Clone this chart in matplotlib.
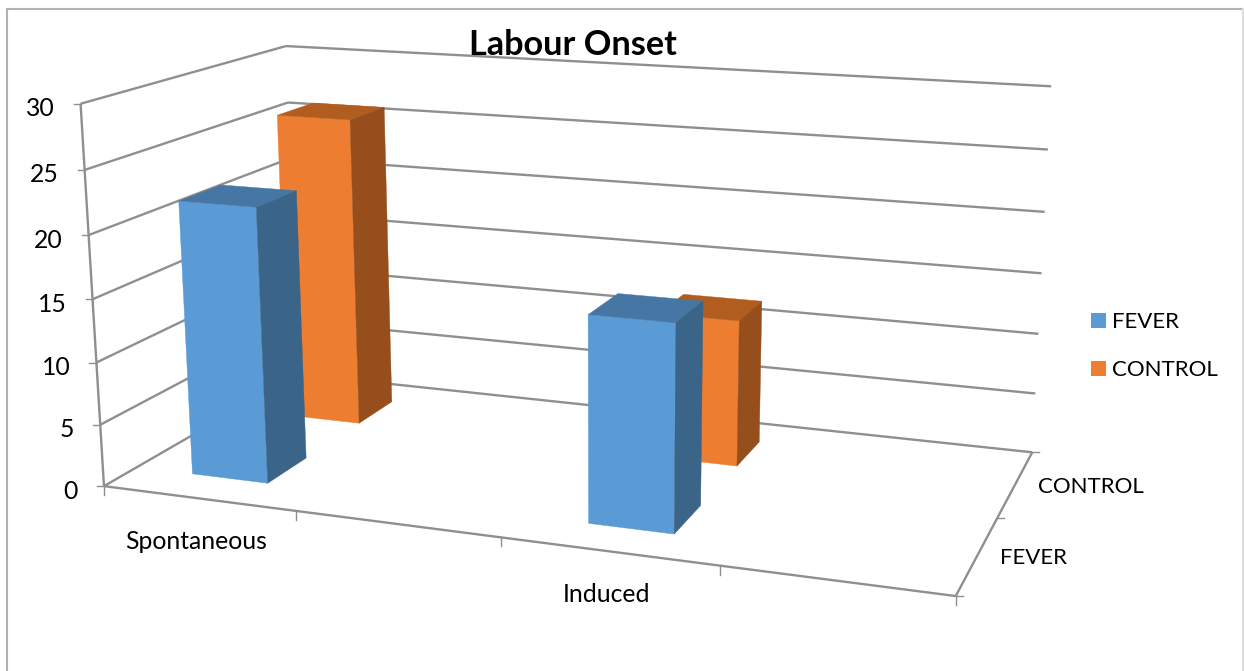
import numpy as np
import matplotlib
matplotlib.use("Agg")
import matplotlib.pyplot as plt
from matplotlib.patches import Polygon, Patch

plt.rcParams['font.family'] = ['Lato', 'DejaVu Sans']

title = "Labour Onset"
categories = ["Spontaneous", "", "Induced", ""]
series_names = ["FEVER", "CONTROL"]
fever = [22, 0, 16, 0]
control = [26, 0, 12, 0]
value_ticks = [0, 5, 10, 15, 20, 25, 30]

series_colors = ["#5B9BD5", "#ED7D31"]
top_colors = ["#4677A4", "#B25D20"]
side_colors = ["#3A6488", "#964F1C"]
grid_color = "#8F8F8F"

bar_width = 0.4  # gap width 150%

# known box positions (cat, depth, value) -> pixel, used to solve the camera
box_world = [(0, 0, 0), (1, 0, 0), (3, 0, 0), (4, 0, 0), (4, 1, 0), (4, 2, 0),
             (4, 2, 5), (4, 2, 10), (4, 2, 15), (4, 2, 20), (4, 2, 25), (4, 2, 30),
             (0, 0, 5), (0, 0, 10), (0, 0, 15), (0, 0, 20), (0, 0, 25), (0, 0, 30),
             (0, 2, 30), (0, 2, 25), (0, 2, 0)]
box_pixel = [(103, 486), (295, 512), (720, 567), (956, 595), (998, 518), (1032, 452),
             (1035, 393), (1038, 333), (1041, 273), (1045, 212), (1048, 150), (1052, 87),
             (100, 425), (97, 362), (93, 298), (89, 234), (85, 170), (81, 105),
             (285, 46), (287, 102), (300, 375)]


def solve_camera(world, pixel):
    rows = []
    rhs = []
    for (x, y, z), (u, v) in zip(world, pixel):
        rows.append([x, y, z, 1, 0, 0, 0, 0, -u * x, -u * y, -u * z])
        rows.append([0, 0, 0, 0, x, y, z, 1, -v * x, -v * y, -v * z])
        rhs += [u, v]
    sol = np.linalg.lstsq(np.array(rows, float), np.array(rhs, float), rcond=None)[0]
    return np.append(sol, 1.0).reshape(3, 4)


camera = solve_camera(box_world, box_pixel)


def project(x, y, z):
    u, v, w = camera @ np.array([x, y, z, 1.0])
    return u / w, v / w


def draw_line(ax, a, b, **kw):
    pa, pb = project(*a), project(*b)
    ax.plot([pa[0], pb[0]], [pa[1], pb[1]], color=grid_color, lw=1.7,
            solid_capstyle="butt", **kw)


def draw_bar(ax, cat, depth, value, idx):
    x0 = cat + (1 - bar_width) / 2
    x1 = x0 + bar_width
    y0 = depth + (1 - bar_width) / 2
    y1 = y0 + bar_width
    faces = [
        ([(x0, y0, 0), (x1, y0, 0), (x1, y0, value), (x0, y0, value)], series_colors[idx]),
        ([(x0, y0, value), (x1, y0, value), (x1, y1, value), (x0, y1, value)], top_colors[idx]),
        ([(x1, y0, 0), (x1, y1, 0), (x1, y1, value), (x1, y0, value)], side_colors[idx]),
    ]
    for corners, color in faces:
        pts = [project(*c) for c in corners]
        ax.add_patch(Polygon(pts, closed=True, facecolor=color, edgecolor=color, lw=0.3, zorder=3))


fig = plt.figure(figsize=(12.44, 6.71), dpi=100)
ax = fig.add_axes([0, 0, 1, 1])
ax.set_xlim(0, 1244)
ax.set_ylim(671, 0)
ax.axis("off")

# chart area border, open at the bottom
ax.plot([7, 7], [671, 9], color="#B2B2B2", lw=1.5)
ax.plot([7, 1243], [9, 9], color="#B2B2B2", lw=1.5)
ax.plot([1243, 1243], [9, 671], color="#DDDDDD", lw=1.5)

# gridlines on the two walls
for v in value_ticks:
    draw_line(ax, (0, 0, v), (0, 2, v))
    draw_line(ax, (0, 2, v), (4, 2, v))
    px, py = project(0, 0, v)
    ax.plot([px - 7, px], [py, py], color=grid_color, lw=1.0)
    ax.text(px - 26, py + 5, str(v), ha="right", va="center", fontsize=17.8, color="black")

# floor outline and axis ticks
draw_line(ax, (0, 0, 0), (0, 0, 30))
draw_line(ax, (0, 0, 0), (4, 0, 0))
draw_line(ax, (4, 0, 0), (4, 2, 0))
for i in range(len(categories) + 1):
    px, py = project(i, 0, 0)
    ax.plot([px, px], [py, py + 9], color=grid_color, lw=1.0)
for i, name in enumerate(categories):
    px, py = project(i + 0.5, 0, 0)
    ax.text(px - 2, py + 43, name, ha="center", va="center", fontsize=17.8, color="black")
for i in range(len(series_names) + 1):
    px, py = project(4, i, 0)
    ax.plot([px, px + 7], [py, py], color=grid_color, lw=1.0)
for i, name in enumerate(series_names):
    px, py = project(4, i + 0.5, 0)
    ax.text(px + 22, py + 3, name, ha="left", va="center", fontsize=16, color="black")

# back row first so the front row covers it
for cat, value in enumerate(control):
    if value > 0:
        draw_bar(ax, cat, 1, value, 1)
for cat, value in enumerate(fever):
    if value > 0:
        draw_bar(ax, cat, 0, value, 0)

ax.text(573, 45, title, ha="center", va="center", fontsize=24.7, fontweight="bold", color="black")

handles = [Patch(facecolor=c, label=n) for c, n in zip(series_colors, series_names)]
ax.legend(handles=handles, loc="upper left", bbox_to_anchor=(1091, 312),
          bbox_transform=ax.transData, frameon=False, fontsize=16, borderpad=0,
          borderaxespad=0, handlelength=0.68, handleheight=0.68, handletextpad=0.27,
          labelspacing=1.26, labelcolor="black")

fig.savefig("out.png", dpi=100)
